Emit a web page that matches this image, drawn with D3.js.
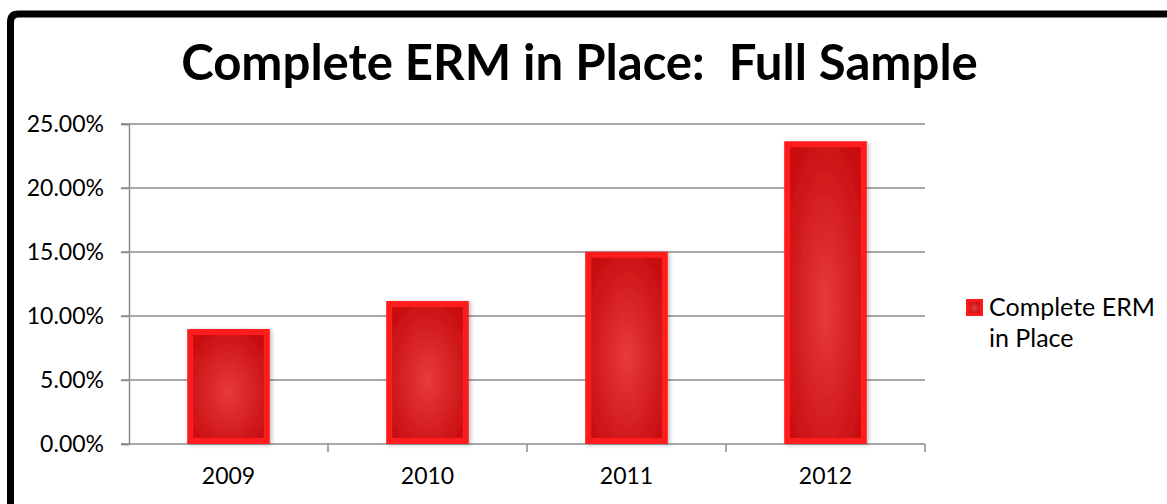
<!DOCTYPE html>
<html>
<head>
<meta charset="utf-8">
<script src="https://cdn.jsdelivr.net/npm/d3@7"></script>
<style>
  body { margin: 0; background: #fff; }
  svg { display: block; font-family: Lato, "Open Sans", sans-serif; }
</style>
</head>
<body>
<svg id="canvas" width="1167" height="504"></svg>
<script>
// chart data
let years = ['2009', '2010', '2011', '2012']
let erm = [0.0898, 0.1117, 0.1502, 0.2365]
let yTicks = [0, 0.05, 0.10, 0.15, 0.20, 0.25]
let seriesName = ['Complete ERM', 'in Place']
let title = 'Complete ERM in Place:\u00a0 Full Sample'

let svg = d3.select('#canvas')
let W = 1167, H = 504
let plotLeft = 129, plotRight = 925, plotTop = 124, plotBottom = 444

let defs = svg.append('defs')
let grad = defs.append('radialGradient')
    .attr('id', 'barFill')
    .attr('cx', '50%').attr('cy', '55%').attr('r', '65%')
grad.append('stop').attr('offset', '0%').attr('stop-color', '#e83a3c')
grad.append('stop').attr('offset', '100%').attr('stop-color', '#c80d10')

let shadow = defs.append('filter').attr('id', 'shadow')
    .attr('x', '-20%').attr('y', '-20%').attr('width', '150%').attr('height', '140%')
shadow.append('feDropShadow')
    .attr('dx', 2).attr('dy', 1).attr('stdDeviation', 2)
    .attr('flood-color', '#000').attr('flood-opacity', 0.25)

// frame (only left and top edges are in view)
svg.append('path')
    .attr('d', `M10.5,${H + 10} L10.5,22 Q10.5,14 18.5,14 L${W + 10},14`)
    .attr('fill', 'none')
    .attr('stroke', '#000')
    .attr('stroke-width', 7)

// title
let titleText = svg.append('text')
    .attr('x', 579.5)
    .attr('y', 80)
    .attr('text-anchor', 'middle')
    .attr('font-weight', 'bold')
    .attr('font-size', 48)
    .text(title)
let tw = titleText.node().getComputedTextLength()
titleText.attr('font-size', 48 * 797 / tw)

let x = d3.scaleBand().domain(years).range([plotLeft, plotRight]).padding(0)
let y = d3.scaleLinear().domain([0, 0.25]).range([plotBottom, plotTop])

// gridlines
svg.append('g')
    .selectAll('line')
    .data(yTicks)
    .enter().append('line')
    .attr('x1', plotLeft - 8)
    .attr('x2', plotRight)
    .attr('y1', d => y(d))
    .attr('y2', d => y(d))
    .attr('stroke', '#8c8c8c')
    .attr('stroke-width', 1.5)

// y axis
let yAxis = svg.append('g')
    .attr('transform', `translate(${plotLeft},0)`)
    .call(d3.axisLeft(y).tickValues(yTicks).tickFormat(d3.format('.2%')).tickSize(8).tickPadding(17))
yAxis.select('.domain').attr('stroke', '#8c8c8c').attr('stroke-width', 1.5)
yAxis.selectAll('.tick line').attr('stroke', '#8c8c8c').attr('stroke-width', 1.5)
yAxis.selectAll('.tick text')
    .attr('font-size', 23)
    .attr('font-family', 'Lato, sans-serif')
    .attr('fill', '#000')

// x axis
let xAxis = svg.append('g')
    .attr('transform', `translate(0,${plotBottom})`)
    .call(d3.axisBottom(x).tickSize(0).tickPadding(24))
xAxis.select('.domain').remove()
xAxis.selectAll('.tick text')
    .attr('font-size', 23)
    .attr('font-family', 'Lato, sans-serif')
    .attr('fill', '#000')

// category boundary ticks
let bounds = years.map(d => x(d)).concat([plotRight])
svg.append('g')
    .selectAll('line')
    .data(bounds.slice(1))
    .enter().append('line')
    .attr('x1', d => d).attr('x2', d => d)
    .attr('y1', plotBottom).attr('y2', plotBottom + 8)
    .attr('stroke', '#8c8c8c')
    .attr('stroke-width', 1.5)

// bars
let barW = x.bandwidth() * 0.415
let bars = svg.append('g')
    .selectAll('g')
    .data(erm)
    .enter().append('g')
    .attr('filter', 'url(#shadow)')

bars.append('rect')
    .attr('x', (d, i) => x(years[i]) + x.bandwidth() / 2 - barW / 2)
    .attr('y', d => y(d))
    .attr('width', barW)
    .attr('height', d => plotBottom - y(d))
    .attr('fill', '#ff1a1a')

bars.append('rect')
    .attr('x', (d, i) => x(years[i]) + x.bandwidth() / 2 - barW / 2 + 6)
    .attr('y', d => y(d) + 6)
    .attr('width', barW - 12)
    .attr('height', d => plotBottom - y(d) - 12)
    .attr('fill', 'url(#barFill)')

// legend
let legend = svg.append('g')
legend.append('rect')
    .attr('x', 966).attr('y', 299)
    .attr('width', 17).attr('height', 17)
    .attr('fill', '#ff1a1a')
legend.append('rect')
    .attr('x', 969).attr('y', 302)
    .attr('width', 11).attr('height', 11)
    .attr('fill', 'url(#barFill)')
legend.selectAll('text')
    .data(seriesName)
    .enter().append('text')
    .attr('x', 989)
    .attr('y', (d, i) => 316 + i * 31)
    .attr('font-size', 25)
    .attr('fill', '#000')
    .text(d => d)
</script>
</body>
</html>
